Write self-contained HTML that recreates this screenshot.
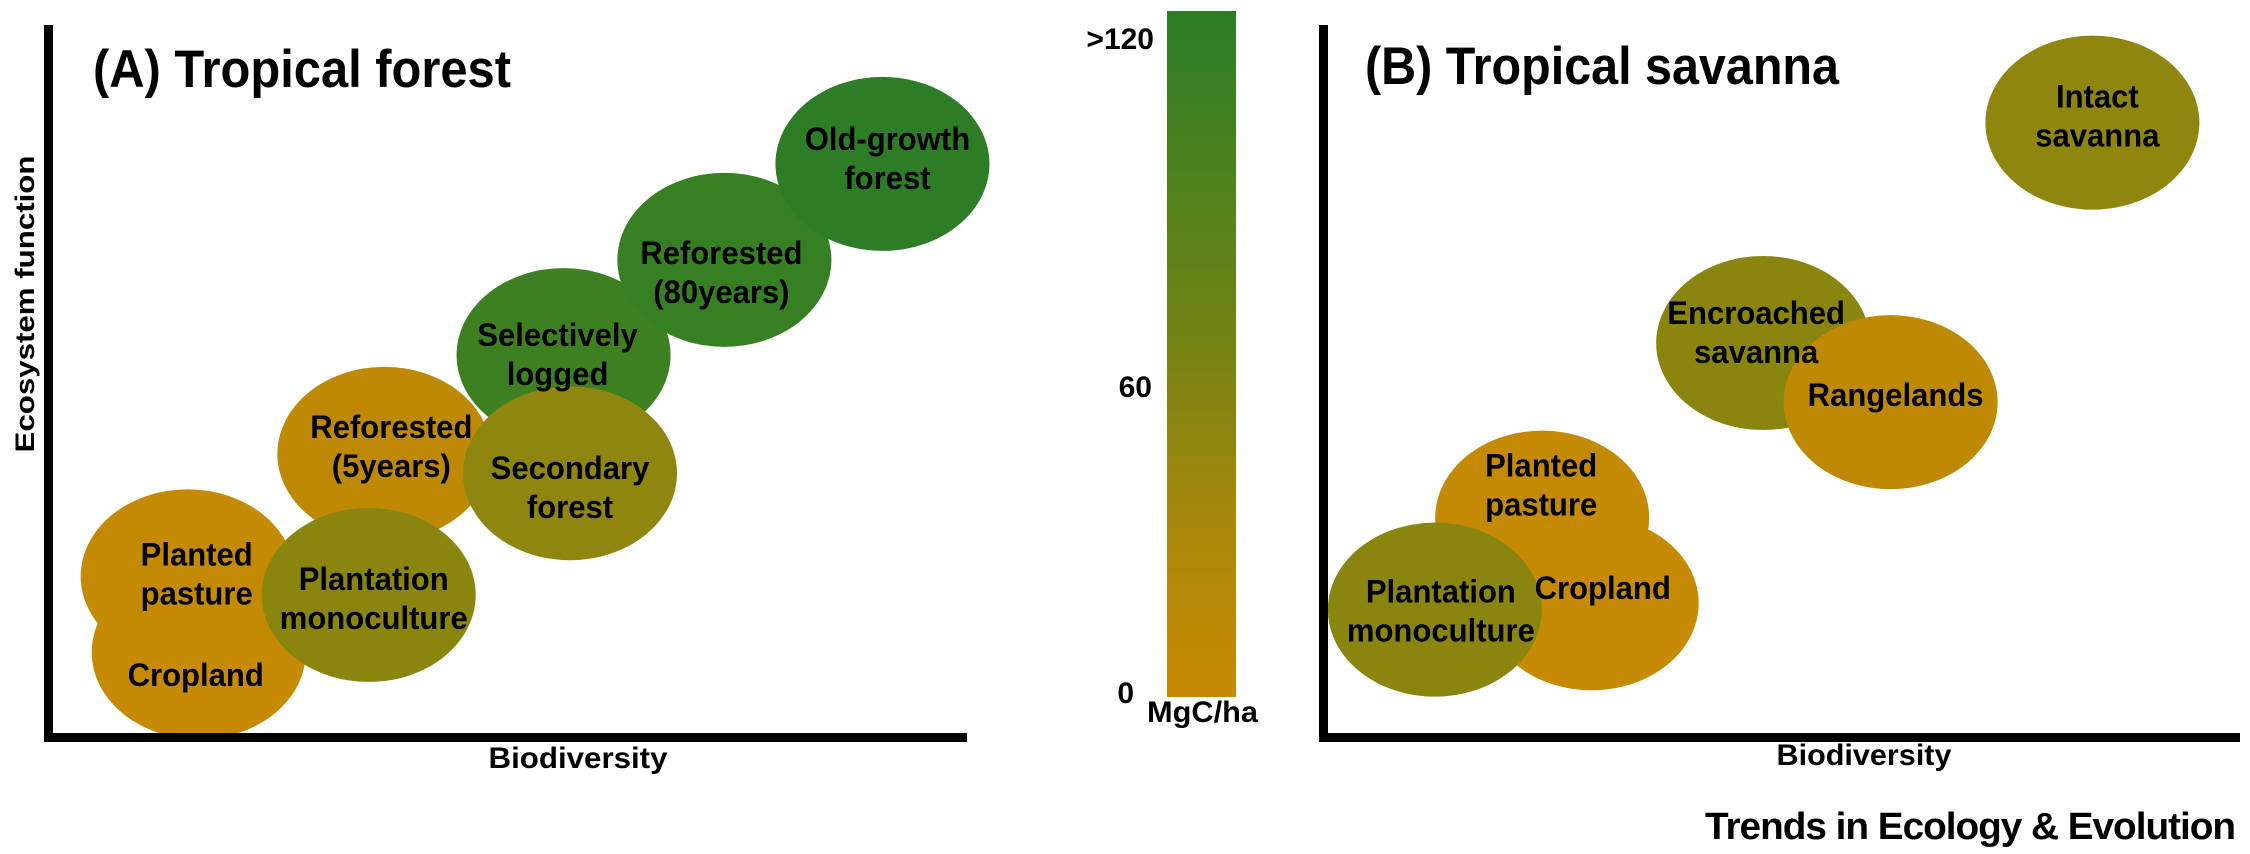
<!DOCTYPE html>
<html><head><meta charset="utf-8">
<style>
html,body{margin:0;padding:0;background:#fff;}
svg{display:block;}
text{font-family:"Liberation Sans",Arial,sans-serif;font-weight:bold;fill:#000;}
</style></head>
<body>
<svg id="chart" width="2250" height="854" viewBox="0 0 2250 854" xmlns="http://www.w3.org/2000/svg">
<defs>
<linearGradient id="cbar" x1="0" y1="1" x2="0" y2="0">
<stop offset="0" stop-color="#c98a03"/><stop offset="0.25" stop-color="#a8880a"/>
<stop offset="0.5" stop-color="#768313"/><stop offset="0.75" stop-color="#4f821c"/>
<stop offset="1" stop-color="#2a7d27"/>
</linearGradient>
</defs>
<g id="panelA"></g>
<g id="panelB"></g>
<rect x="44" y="25" width="9" height="717" fill="#000"/>
<rect x="44" y="733" width="923" height="9" fill="#000"/>
<text x="93" y="87" font-size="53" textLength="418" lengthAdjust="spacingAndGlyphs">(A) Tropical forest</text>
<text transform="translate(34,304) rotate(-90)" text-anchor="middle" font-size="27" textLength="297" lengthAdjust="spacingAndGlyphs">Ecosystem function</text>
<text x="578" y="768" text-anchor="middle" font-size="30" textLength="179" lengthAdjust="spacingAndGlyphs">Biodiversity</text>
<rect x="1167" y="11" width="69" height="686" fill="url(#cbar)"/>
<text x="1154" y="49" text-anchor="end" font-size="30">&gt;120</text>
<text x="1152" y="397" text-anchor="end" font-size="30">60</text>
<text x="1134" y="703" text-anchor="end" font-size="30">0</text>
<text x="1147" y="722" font-size="30" textLength="111" lengthAdjust="spacingAndGlyphs">MgC/ha</text>
<rect x="1319" y="25" width="9" height="716" fill="#000"/>
<rect x="1319" y="733" width="921" height="9" fill="#000"/>
<text x="1365" y="84" font-size="53" textLength="474" lengthAdjust="spacingAndGlyphs">(B) Tropical savanna</text>
<text x="1864" y="765" text-anchor="middle" font-size="30" textLength="175" lengthAdjust="spacingAndGlyphs">Biodiversity</text>
<text x="1705" y="839" font-size="38" textLength="530" lengthAdjust="spacingAndGlyphs" letter-spacing="-1">Trends in Ecology &amp; Evolution</text>
</svg>
<script>
const namesA = [["Cropland"],["Planted","pasture"],["Reforested","(5years)"],["Selectively","logged"],["Secondary","forest"],["Plantation","monoculture"],["Reforested","(80years)"],["Old-growth","forest"]];
const bioA = [16.4, 15.2, 36.6, 56.1, 56.8, 34.9, 73.6, 90.8];
const funcA = [12.4, 23.0, 40.1, 53.9, 37.4, 20.4, 67.2, 80.6];
const carbonA = [3, 4, 10, 105, 45, 48, 110, 118];
const namesB = [["Intact","savanna"],["Encroached","savanna"],["Rangelands"],["Planted","pasture"],["Cropland"],["Plantation","monoculture"]];
const bioB = [83.9, 48.0, 61.9, 23.9, 29.3, 12.2];
const funcB = [86.3, 55.4, 47.1, 30.9, 18.9, 18.0];
const carbonB = [45, 48, 10, 5, 3, 48];

const offA = [[-3,34],[9,-11],[7,-16],[-6,-9],[0,6],[5,-5],[-3,4],[5,-14]];
const offB = [[5,-15],[-7,-19],[5,4],[-1,-41],[11,-4],[6,-7]];

const NS = "http://www.w3.org/2000/svg";
const xA = v => 48 + v * 9.19, yA = v => 741 - v * 7.16;
const xB = v => 1323 + v * 9.17, yB = v => 738 - v * 7.13;
const stops = [[0,[201,138,3]],[30,[168,136,10]],[60,[118,131,19]],[90,[79,130,28]],[120,[42,125,39]]];
function color(c){
  c = Math.max(0, Math.min(120, c));
  for (let i = 0; i < stops.length - 1; i++) {
    const [a, ca] = stops[i], [b, cb] = stops[i+1];
    if (c <= b) { const t = (c - a) / (b - a);
      return "rgb(" + ca.map((v, k) => Math.round(v + (cb[k] - v) * t)).join(",") + ")"; }
  }
}
function draw(gid, names, bio, func, carbon, off, xs, ys, prefix){
  const g = document.getElementById(gid);
  const labels = [];
  for (let i = 0; i < names.length; i++) {
    const cx = xs(bio[i]), cy = ys(func[i]);
    const e = document.createElementNS(NS, "ellipse");
    e.setAttribute("cx", cx); e.setAttribute("cy", cy);
    e.setAttribute("rx", 107); e.setAttribute("ry", 87);
    e.setAttribute("fill", color(carbon[i]));
    
    
    g.appendChild(e);
    names[i].forEach((line, j) => {
      const t = document.createElementNS(NS, "text");
      t.setAttribute("x", cx + off[i][0]);
      t.setAttribute("y", cy + off[i][1] + j * 39);
      t.setAttribute("text-anchor", "middle");
      t.setAttribute("font-size", "32");
      t.textContent = line;
      
      
      labels.push(t);
    });
  }
  labels.forEach(t => { g.appendChild(t);
    const w = t.getComputedTextLength();
    t.setAttribute("textLength", (w * 0.97).toFixed(1));
    t.setAttribute("lengthAdjust", "spacingAndGlyphs"); });
}
draw("panelA", namesA, bioA, funcA, carbonA, offA, xA, yA, "forest");
draw("panelB", namesB, bioB, funcB, carbonB, offB, xB, yB, "savanna");
</script>
</body></html>
